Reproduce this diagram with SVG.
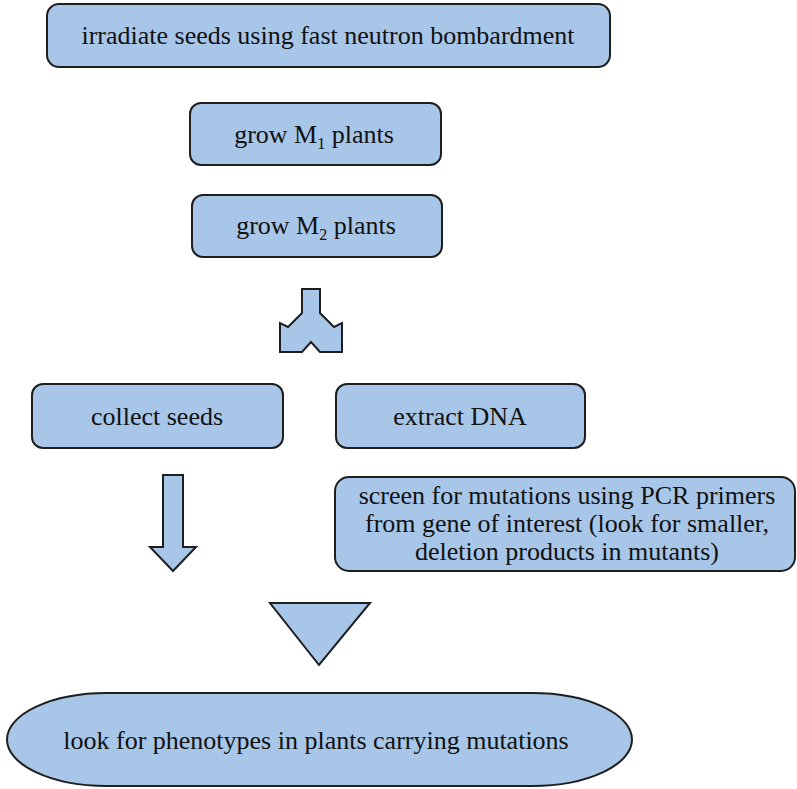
<svg xmlns="http://www.w3.org/2000/svg" width="797" height="789" viewBox="0 0 797 789">
<style>
.box{fill:#a8c6e8;stroke:#1e1e1e;stroke-width:2}
.t{font-family:"Liberation Serif","Times New Roman",serif;font-size:26px;fill:#111;text-anchor:middle}
</style>
<rect width="797" height="789" fill="#ffffff"/>
<g id="n-irradiate">
<rect class="box" x="47" y="4" width="563" height="63" rx="12"/>
<text class="t" x="328" y="44">irradiate seeds using fast neutron bombardment</text>
</g>
<g id="n-m1">
<rect class="box" x="190" y="103" width="251" height="62" rx="11"/>
<text class="t" x="314" y="143">grow M<tspan font-size="16" dy="6">1</tspan><tspan dy="-6"> plants</tspan></text>
</g>
<g id="n-m2">
<rect class="box" x="192" y="195" width="250" height="62" rx="11"/>
<text class="t" x="316" y="234">grow M<tspan font-size="16" dy="6">2</tspan><tspan dy="-6"> plants</tspan></text>
</g>
<g id="n-collect">
<rect class="box" x="32" y="384" width="251" height="64" rx="11"/>
<text class="t" x="157" y="425">collect seeds</text>
</g>
<g id="n-extract">
<rect class="box" x="336" y="384" width="249" height="64" rx="11"/>
<text class="t" x="460" y="425">extract DNA</text>
</g>
<g id="n-screen">
<rect class="box" x="335" y="477" width="460" height="94" rx="14"/>
<text class="t" x="567" y="504">screen for mutations using PCR primers</text>
<text class="t" x="567" y="532">from gene of interest (look for smaller,</text>
<text class="t" x="567" y="560">deletion products in mutants)</text>
</g>
<g id="n-look">
<rect class="box" x="7" y="693" width="625" height="93" rx="100" ry="46.5"/>
<text class="t" x="316" y="749">look for phenotypes in plants carrying mutations</text>
</g>
<g id="connectors">
<polygon class="box" points="302,289 320,289 320,313 334,327 342,323 342,352 320,352 311,342 302,352 280,352 280,323 288,327 302,313"/>
<polygon class="box" points="163,475 183,475 183,547 196,547 173,571 150,547 163,547"/>
<polygon class="box" points="270,603 370,603 319,665"/>
</g>
</svg>
